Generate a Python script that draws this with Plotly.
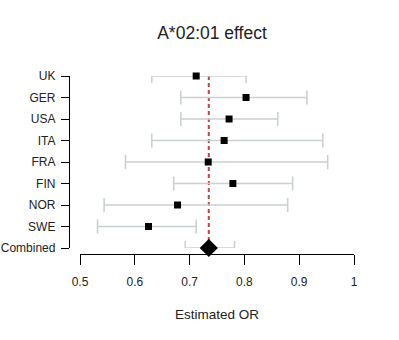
import plotly.graph_objects as go

countries = ["UK", "GER", "USA", "ITA", "FRA", "FIN", "NOR", "SWE"]
est = [0.712, 0.803, 0.772, 0.763, 0.734, 0.779, 0.678, 0.625]
lower = [0.631, 0.684, 0.684, 0.631, 0.583, 0.671, 0.544, 0.532]
upper = [0.803, 0.914, 0.861, 0.943, 0.952, 0.888, 0.879, 0.712]

comb_label = "Combined"
comb_est = 0.735
comb_lower = 0.692
comb_upper = 0.782

x_ticks = [0.5, 0.6, 0.7, 0.8, 0.9, 1.0]
x_ticktext = ["0.5", "0.6", "0.7", "0.8", "0.9", "1"]

n = len(countries)
ypos = list(range(n, 0, -1))  # UK at top
all_labels = countries + [comb_label]
all_pos = ypos + [0]

ci_col = "#c9d1d3"
font = "Liberation Sans, Arial, sans-serif"

fig = go.Figure()

# reference line
fig.add_trace(go.Scatter(
    x=[comb_est, comb_est], y=[0, n], mode="lines",
    line=dict(color="#c04444", width=2, dash="4px,3px"),
    hoverinfo="skip", showlegend=False, cliponaxis=False))

# country CIs and points
fig.add_trace(go.Scatter(
    x=est, y=ypos, mode="markers",
    marker=dict(symbol="square", size=7, color="black"),
    error_x=dict(type="data", symmetric=False,
                 array=[u - e for u, e in zip(upper, est)],
                 arrayminus=[e - l for e, l in zip(est, lower)],
                 color=ci_col, thickness=1.6, width=7),
    showlegend=False, cliponaxis=False))

# combined
fig.add_trace(go.Scatter(
    x=[comb_est], y=[0], mode="markers",
    marker=dict(symbol="diamond", size=14, color="black"),
    error_x=dict(type="data", symmetric=False,
                 array=[comb_upper - comb_est], arrayminus=[comb_est - comb_lower],
                 color=ci_col, thickness=1.6, width=7),
    showlegend=False, cliponaxis=False))

L, R, T, B = 69, 45, 76, 86
W = 399 - L - R
H = 340 - T - B

fig.update_layout(
    width=399, height=340,
    margin=dict(l=L, r=R, t=T, b=B),
    paper_bgcolor="white", plot_bgcolor="white",
    font=dict(family=font, size=12, color="#222"),
    title=dict(text="A*02:01 effect", x=212 / 399, xref="container", xanchor="center",
               y=1 - 33 / 340, yref="container", yanchor="middle",
               font=dict(size=17.5, color="#222")),
    xaxis=dict(range=[0.5, 1.0], domain=[11 / W, 1], anchor="free", position=0,
               automargin=False,
               showline=True, linecolor="black", linewidth=1.3,
               ticks="outside", ticklen=10, tickwidth=1.3, tickcolor="black",
               tickvals=x_ticks, ticktext=x_ticktext, showgrid=False, zeroline=False,
               ticklabelstandoff=6,
               title=dict(text="Estimated OR", font=dict(size=13.5), standoff=22)),
    yaxis=dict(range=[0, n], domain=[6 / H, 1], anchor="free", position=0,
               automargin=False,
               showline=True, linecolor="black", linewidth=1.3,
               ticks="outside", ticklen=8, tickwidth=1.3, tickcolor="black",
               tickvals=all_pos, ticktext=all_labels, showgrid=False, zeroline=False,
               ticklabelstandoff=3, tickfont=dict(size=12)),
)

fig.write_html("out.html")
